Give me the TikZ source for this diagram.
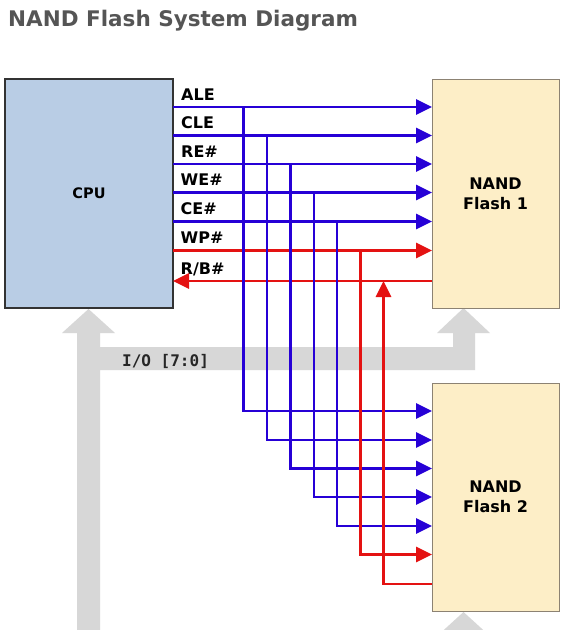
\documentclass[tikz,border=0pt]{standalone}
\usepackage{fontspec}
\setmainfont{DejaVu Sans}
\newfontfamily\monofam{DejaVu Sans Mono}
\usetikzlibrary{arrows.meta}
\definecolor{sigblue}{RGB}{38,0,214}
\definecolor{sigred}{RGB}{228,18,18}
\definecolor{busgrey}{RGB}{215,215,215}
\definecolor{cpufill}{RGB}{185,205,229}
\definecolor{nandfill}{RGB}{253,238,199}
\definecolor{nandedge}{RGB}{140,130,115}
\definecolor{titlegrey}{RGB}{85,85,85}
\tikzset{
  bsig/.style={draw=sigblue, line width=2.8pt, -{Triangle[length=16pt,width=15pt]}},
  rsig/.style={draw=sigred, line width=2.8pt, -{Triangle[length=16pt,width=15pt]}},
  sigtext/.style={anchor=base west, inner sep=0pt, font=\fontsize{16}{19}\selectfont\bfseries},
  cpubox/.style={draw=black!80, line width=1.2pt, fill=cpufill, outer sep=0pt, anchor=north west,
    minimum width=168pt, minimum height=229pt, font=\fontsize{14.5}{17}\selectfont\bfseries},
  nandbox/.style={draw=nandedge, line width=1pt, fill=nandfill, outer sep=0pt, anchor=north west,
    minimum width=127pt, align=center, font=\fontsize{16}{20}\selectfont\bfseries},
}
\begin{document}
\begin{tikzpicture}[x=1pt,y=-1pt]
\useasboundingbox (0,0) rectangle (563,630);
\clip (0,0) rectangle (563,630);
\fill[white] (0,0) rectangle (563,630);
% title
\node[anchor=base west, inner sep=0pt, text=titlegrey, font=\fontsize{21.5}{25}\selectfont\bfseries] (title) at (8,26) {NAND Flash System Diagram};
% I/O bus
\fill[busgrey] (77,640) -- (77,333) -- (62,333) -- (88.5,309) -- (115,333) -- (100,333) -- (100,347)
  -- (453,347) -- (453,333) -- (437,333) -- (463.5,308) -- (490,333) -- (475,333) -- (475,370)
  -- (100,370) -- (100,640) -- cycle;
\fill[busgrey] (463.5,612) -- (492,638) -- (435,638) -- cycle;
\node[anchor=base west, inner sep=0pt, font=\fontsize{16}{19}\selectfont\monofam\bfseries, text=black!85] (io) at (122,366) {I/O [7:0]};
% boxes
\node[cpubox] (cpu) at (5,79) {CPU};
\node[nandbox, minimum height=229pt] (n1) at (432,79) {NAND\\Flash 1};
\node[nandbox, minimum height=228pt] (n2) at (432,383) {NAND\\Flash 2};
% levels
\coordinate (y1) at (0,107);
\coordinate (y2) at (0,135.5);
\coordinate (y3) at (0,164);
\coordinate (y4) at (0,192.5);
\coordinate (y5) at (0,221.5);
\coordinate (y6) at (0,250.5);
\coordinate (y7) at (0,281);
\coordinate (z1) at (0,411);
\coordinate (z2) at (0,440);
\coordinate (z3) at (0,468.5);
\coordinate (z4) at (0,497);
\coordinate (z5) at (0,526);
\coordinate (z6) at (0,554.5);
\coordinate (z7) at (0,584);
\coordinate (x1) at (243.5,0);
\coordinate (x2) at (267,0);
\coordinate (x3) at (290.5,0);
\coordinate (x4) at (314,0);
\coordinate (x5) at (337,0);
\coordinate (x6) at (360.5,0);
\coordinate (x7) at (383.5,0);
% labels
\node[sigtext] (lALE) at (181,100) {ALE};
\node[sigtext] (lCLE) at (181,128.5) {CLE};
\node[sigtext] (lRE) at (181,157) {RE\#};
\node[sigtext] (lWE) at (180.5,185.5) {WE\#};
\node[sigtext] (lCE) at (180.5,214.5) {CE\#};
\node[sigtext] (lWP) at (180.5,243.5) {WP\#};
\node[sigtext] (lRB) at (180.5,274.5) {R/B\#};
% CPU to NAND 1
\draw[bsig] (cpu.east|-y1) -- (n1.west|-y1);
\draw[bsig] (cpu.east|-y2) -- (n1.west|-y2);
\draw[bsig] (cpu.east|-y3) -- (n1.west|-y3);
\draw[bsig] (cpu.east|-y4) -- (n1.west|-y4);
\draw[bsig] (cpu.east|-y5) -- (n1.west|-y5);
\draw[rsig] (cpu.east|-y6) -- (n1.west|-y6);
\draw[rsig] (n1.west|-y7) -- (cpu.east|-y7);
% branches to NAND 2
\draw[bsig] (x1|-y1) -- (x1|-z1) -- (n2.west|-z1);
\draw[bsig] (x2|-y2) -- (x2|-z2) -- (n2.west|-z2);
\draw[bsig] (x3|-y3) -- (x3|-z3) -- (n2.west|-z3);
\draw[bsig] (x4|-y4) -- (x4|-z4) -- (n2.west|-z4);
\draw[bsig] (x5|-y5) -- (x5|-z5) -- (n2.west|-z5);
\draw[rsig] (x6|-y6) -- (x6|-z6) -- (n2.west|-z6);
\draw[rsig] (n2.west|-z7) -- (x7|-z7) -- (x7|-y7);
\end{tikzpicture}
\end{document}
